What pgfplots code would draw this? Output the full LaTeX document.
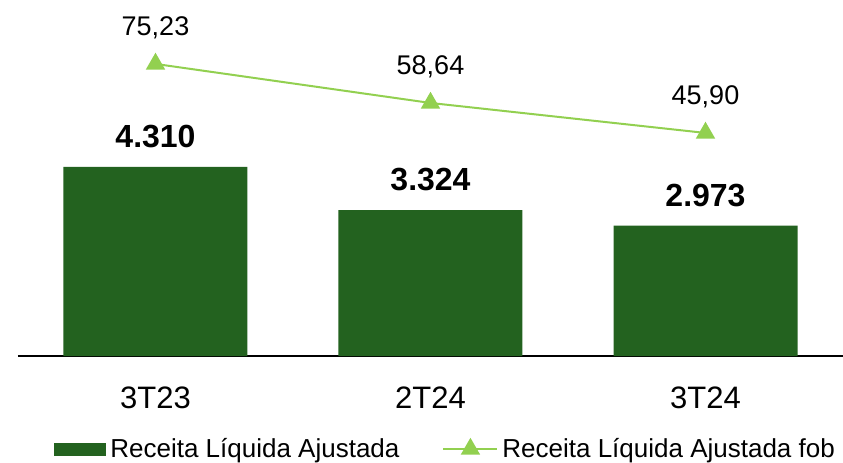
\documentclass[border=0pt]{standalone}
\usepackage{pgfplots}
\pgfplotsset{compat=1.18}
\usepackage{fontspec}
\setmainfont{Liberation Sans}
\definecolor{bargreen}{HTML}{23621F}
\definecolor{linegreen}{HTML}{92D050}
\begin{document}
\begin{tikzpicture}
\begin{axis}[
 scale only axis, width=412.5pt, height=168pt,
 xmin=-0.5, xmax=2.5, ymin=0, ymax=7662,
 axis x line*=bottom, axis y line=none,
 axis line style={-, black, line width=0.75pt},
 xtick={0,1,2}, xticklabels={3T23,2T24,3T24},
 major tick length=0pt,
 xticklabel style={font=\fontsize{15.5}{18}\selectfont, anchor=base, yshift=-26pt},
 ybar, bar width=92pt,
 nodes near coords, point meta=explicit symbolic,
 every node near coord/.append style={font=\fontsize{16}{19}\selectfont\bfseries, anchor=base, yshift=9.75pt, text=black},
 legend columns=2,
 legend style={draw=none, fill=none, inner sep=0pt, font=\fontsize{13}{15}\selectfont,
   at={(0.0436,-0.2768)}, anchor=west,
   /tikz/every even column/.append style={column sep=19.5pt}},
 clip=false,
]
\addplot[fill=bargreen, draw=none,
  legend image code/.code={\fill[bargreen] (0pt,-3.25pt) rectangle (26pt,3.25pt);}]
  coordinates {(0,4310)[4.310] (1,3324)[3.324] (2,2973)[2.973]};
\addlegendentry{Receita Líquida Ajustada}
\addlegendimage{linegreen, line width=1pt,
  legend image code/.code={\draw[sharp plot, linegreen, line width=1pt, mark=triangle*, mark size=4.6pt, mark repeat=2, mark phase=2] plot coordinates {(0pt,0pt) (13.5pt,0pt) (27pt,0pt)};}}
\addlegendentry{Receita Líquida Ajustada fob}
\end{axis}
\begin{axis}[
 scale only axis, width=412.5pt, height=168pt,
 xmin=-0.5, xmax=2.5, ymin=-48.9, ymax=93.9,
 hide axis, clip=false,
 nodes near coords, point meta=explicit symbolic,
 every node near coord/.append style={font=\fontsize{13.5}{16}\selectfont, anchor=base, yshift=14pt, text=black},
]
\addplot[linegreen, line width=1pt, mark=triangle*, mark size=4.6pt, mark options={solid}]
  coordinates {(0,75.23)[75,23] (1,58.64)[58,64] (2,45.90)[45,90]};
\end{axis}
\pgfresetboundingbox
\path[use as bounding box] (-9pt,-53pt) rectangle (412.5pt,178pt);
\end{tikzpicture}
\end{document}
